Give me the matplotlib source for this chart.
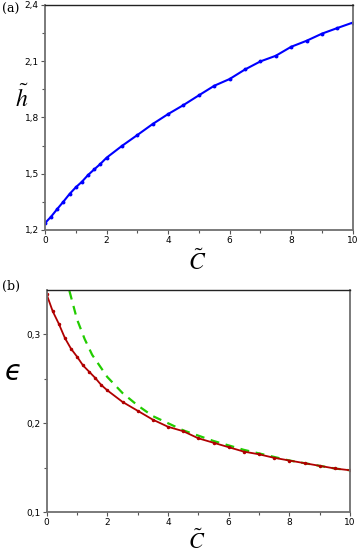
import numpy as np
import matplotlib.pyplot as plt

plt.rcParams['mathtext.fontset'] = 'stix'

# (a) h~ vs C~
c_a = [0, 0.2, 0.4, 0.6, 0.8, 1.0, 1.2, 1.4, 1.6, 1.8, 2.0, 2.5, 3.0, 3.5, 4.0,
       4.5, 5.0, 5.5, 6.0, 6.5, 7.0, 7.5, 8.0, 8.5, 9.0, 9.5, 10.0]
h_a = [1.236, 1.271, 1.312, 1.351, 1.392, 1.427, 1.457, 1.493, 1.523, 1.552, 1.585,
       1.648, 1.706, 1.765, 1.818, 1.866, 1.918, 1.969, 2.005, 2.056, 2.099, 2.129,
       2.177, 2.209, 2.247, 2.277, 2.306]

# (b) epsilon vs C~ (numerical, red)
c_b = [0, 0.2, 0.4, 0.6, 0.8, 1.0, 1.2, 1.4, 1.6, 1.8, 2.0, 2.5, 3.0, 3.5, 4.0,
       4.5, 5.0, 5.5, 6.0, 6.5, 7.0, 7.5, 8.0, 8.5, 9.0, 9.5, 10.0]
eps_b = [0.345, 0.326, 0.312, 0.296, 0.284, 0.275, 0.265, 0.258, 0.251, 0.243, 0.237,
         0.224, 0.214, 0.204, 0.196, 0.191, 0.183, 0.178, 0.173, 0.168, 0.165, 0.161,
         0.158, 0.155, 0.152, 0.149, 0.147]

# (b) asymptotic curve (green dashed)
c_g = [0.75, 1.0, 1.25, 1.5, 2.0, 2.5, 3.0, 3.5, 4.0, 4.5, 5.0, 5.5, 6.0, 6.5,
       7.0, 7.5, 8.0, 8.5, 9.0, 9.5, 10.0]
eps_g = [0.349, 0.317, 0.295, 0.277, 0.252, 0.234, 0.220, 0.208, 0.200, 0.192, 0.186,
         0.180, 0.175, 0.170, 0.166, 0.162, 0.158, 0.155, 0.152, 0.149, 0.147]

fig = plt.figure(figsize=(3.59, 5.54), dpi=100)
ax1 = fig.add_axes([0.1253, 0.585, 0.8572, 0.406])
ax2 = fig.add_axes([0.130, 0.0758, 0.845, 0.4007])


def style(ax):
    for s in ['left', 'bottom', 'right']:
        ax.spines[s].set_color('#707070')
        ax.spines[s].set_linewidth(1.3)
    ax.spines['top'].set_color('#222222')
    ax.spines['top'].set_linewidth(1.0)
    ax.tick_params(which='both', direction='out', labelsize=6.5, color='#555555',
                   top=False, right=False, pad=1.5)
    ax.tick_params(which='major', length=3, width=0.8)
    ax.tick_params(which='minor', length=2, width=0.8)
    ax.set_xlim(0, 10)
    ax.set_xticks([0, 2, 4, 6, 8, 10])
    ax.set_xticks([1, 3, 5, 7, 9], minor=True)
    ax.set_xticklabels(['0', '2', '4', '6', '8', '10'])


ax1.plot(c_a, h_a, color='#0000ff', lw=1.5, marker='o', ms=1.8)
style(ax1)
ax1.set_ylim(1.2, 2.4)
ax1.set_yticks([1.2, 1.5, 1.8, 2.1, 2.4])
ax1.set_yticks([1.35, 1.65, 1.95, 2.25], minor=True)
ax1.set_yticklabels(['1,2', '1,5', '1,8', '2,1', '2,4'])

ax2.plot(c_g, eps_g, color='#22cc00', lw=1.6, ls=(0, (4, 3)))
ax2.plot(c_b, eps_b, color='#b00000', lw=1.3, marker='o', ms=1.5)
style(ax2)
ax2.set_ylim(0.1, 0.35)
ax2.set_yticks([0.1, 0.2, 0.3])
ax2.set_yticks([0.15, 0.25], minor=True)
ax2.set_yticklabels(['0,1', '0,2', '0,3'])

fig.text(22 / 359, 1 - 98 / 554, r'$\tilde{h}$', fontsize=17, ha='center', va='center')
fig.text(197 / 359, 1 - 262 / 554, r'$\tilde{C}$', fontsize=17, ha='center', va='center')
fig.text(197 / 359, 1 - 541 / 554, r'$\tilde{C}$', fontsize=16, ha='center', va='center')
fig.text(13 / 359, 1 - 372 / 554, 'ϵ', fontsize=20, ha='center', va='center',
         family='DejaVu Sans', style='italic')
fig.text(2 / 359, 1 - 9 / 554, '(a)', fontsize=9, family='DejaVu Serif',
         ha='left', va='center')
fig.text(2 / 359, 1 - 286 / 554, '(b)', fontsize=9, family='DejaVu Serif',
         ha='left', va='center')

fig.savefig('out.png', dpi=100)
